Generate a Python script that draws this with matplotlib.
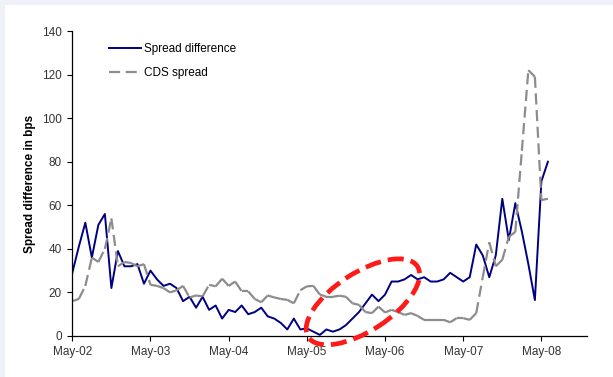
"""Spread difference vs CDS spread, monthly May-02 to Jun-08."""

import matplotlib.pyplot as plt
from matplotlib.collections import LineCollection
from matplotlib.lines import Line2D
from matplotlib.patches import Ellipse, Rectangle
from matplotlib.transforms import ScaledTranslation

plt.rcParams["font.family"] = ["Liberation Sans", "DejaVu Sans"]

# months since May-02
tick_labels = ["May-02", "May-03", "May-04", "May-05", "May-06", "May-07", "May-08"]

spread_diff = [
    29, 41, 52, 36, 51, 56, 22, 39, 32, 32, 33, 24,
    30, 26, 23, 24, 22, 16, 18, 13, 18, 12, 14, 8,
    12, 11, 14, 10, 11, 13, 9, 8, 6, 3, 8, 3,
    3.5, 2, 0.5, 3, 2, 3, 5, 8, 11, 15, 19, 16,
    19, 25, 25, 26, 28, 26, 27, 25, 25, 26, 29, 27,
    25, 27, 42, 37, 27, 37, 63, 44, 61, 48, 33, 16.5,
    71, 80,
]
cds_spread = [
    16, 17, 23, 36, 34, 40, 54, 32, 34, 33.5, 32, 33,
    23.5, 23, 22, 20, 21, 23, 17.7, 18.6, 18.2, 23.5, 22.8, 26.3,
    23, 25, 20.5, 20.5, 17, 15.5, 18.6, 17.7, 17, 16.6, 15, 21,
    22.8, 23, 19, 18, 18, 18.5, 18, 15, 14.3, 11, 10.5, 13.5,
    10.8, 12, 11, 9.7, 10.5, 9.2, 7.4, 7.4, 7.4, 7.4, 6.3, 8.2,
    8.2, 7.4, 10.5, 27, 43, 32, 35, 45.5, 47.8, 85, 122, 119,
    62.4, 63,
]

BLUE = "#000080"
GREY = "#8c8c8c"
DASH = (0, (5, 2.5))

fig = plt.figure(figsize=(6.13, 3.77), dpi=100, facecolor="#eef1f7")
fig.patches.append(Rectangle((5 / 613, 0), 1, 1 - 5 / 377, transform=fig.transFigure,
                             facecolor="white", edgecolor="none", zorder=-10))

ax = fig.add_axes([72.3 / 613, 1 - 336 / 377, (587 - 72.3) / 613, (336 - 31) / 377])
ax.set_facecolor("none")

ax.plot(range(len(spread_diff)), spread_diff, color=BLUE, lw=1.4)

# Excel restarts the dash on every segment, so short flat steps look solid
segs = [[(i, cds_spread[i]), (i + 1, cds_spread[i + 1])] for i in range(len(cds_spread) - 1)]
ax.add_collection(LineCollection(segs, colors=GREY, linewidths=1.6, linestyles=[DASH],
                                 capstyle="butt"))

ax.set_xlim(0, 79)
ax.set_ylim(0, 140)
ax.set_xticks(range(0, 12 * len(tick_labels), 12))
ax.set_xticklabels(tick_labels)
ax.set_yticks(range(0, 141, 20))
ax.tick_params(direction="out", length=3.5, width=0.8, labelsize=8.5,
               labelcolor="#333333", pad=4)
for side in ("top", "right"):
    ax.spines[side].set_visible(False)
for side in ("left", "bottom"):
    ax.spines[side].set_linewidth(0.9)

ax.set_ylabel("Spread difference in bps", fontsize=8.5, fontweight="bold", labelpad=4)

handles = [
    Line2D([], [], color=BLUE, lw=1.4),
    Line2D([], [], color=GREY, lw=1.6, linestyle=DASH),
]
ax.legend(handles, ["Spread difference", "CDS spread"], loc="upper left",
          bbox_to_anchor=(0.05, 0.995), frameon=False, fontsize=8.5,
          handlelength=2.7, labelspacing=1.0, handletextpad=0.3)

# red highlight ellipse, sized in inches so the tilt is not stretched
trans = fig.dpi_scale_trans + ScaledTranslation(44.6, 15.7, ax.transData)
ax.add_patch(Ellipse((0, 0), 1.30, 0.58, angle=33, transform=trans, fill=False,
                     edgecolor="#ff1a1a", lw=3.4, linestyle=(0, (3.4, 1.5)),
                     clip_on=False, zorder=5))

fig.savefig("out.png", dpi=100, facecolor=fig.get_facecolor())
